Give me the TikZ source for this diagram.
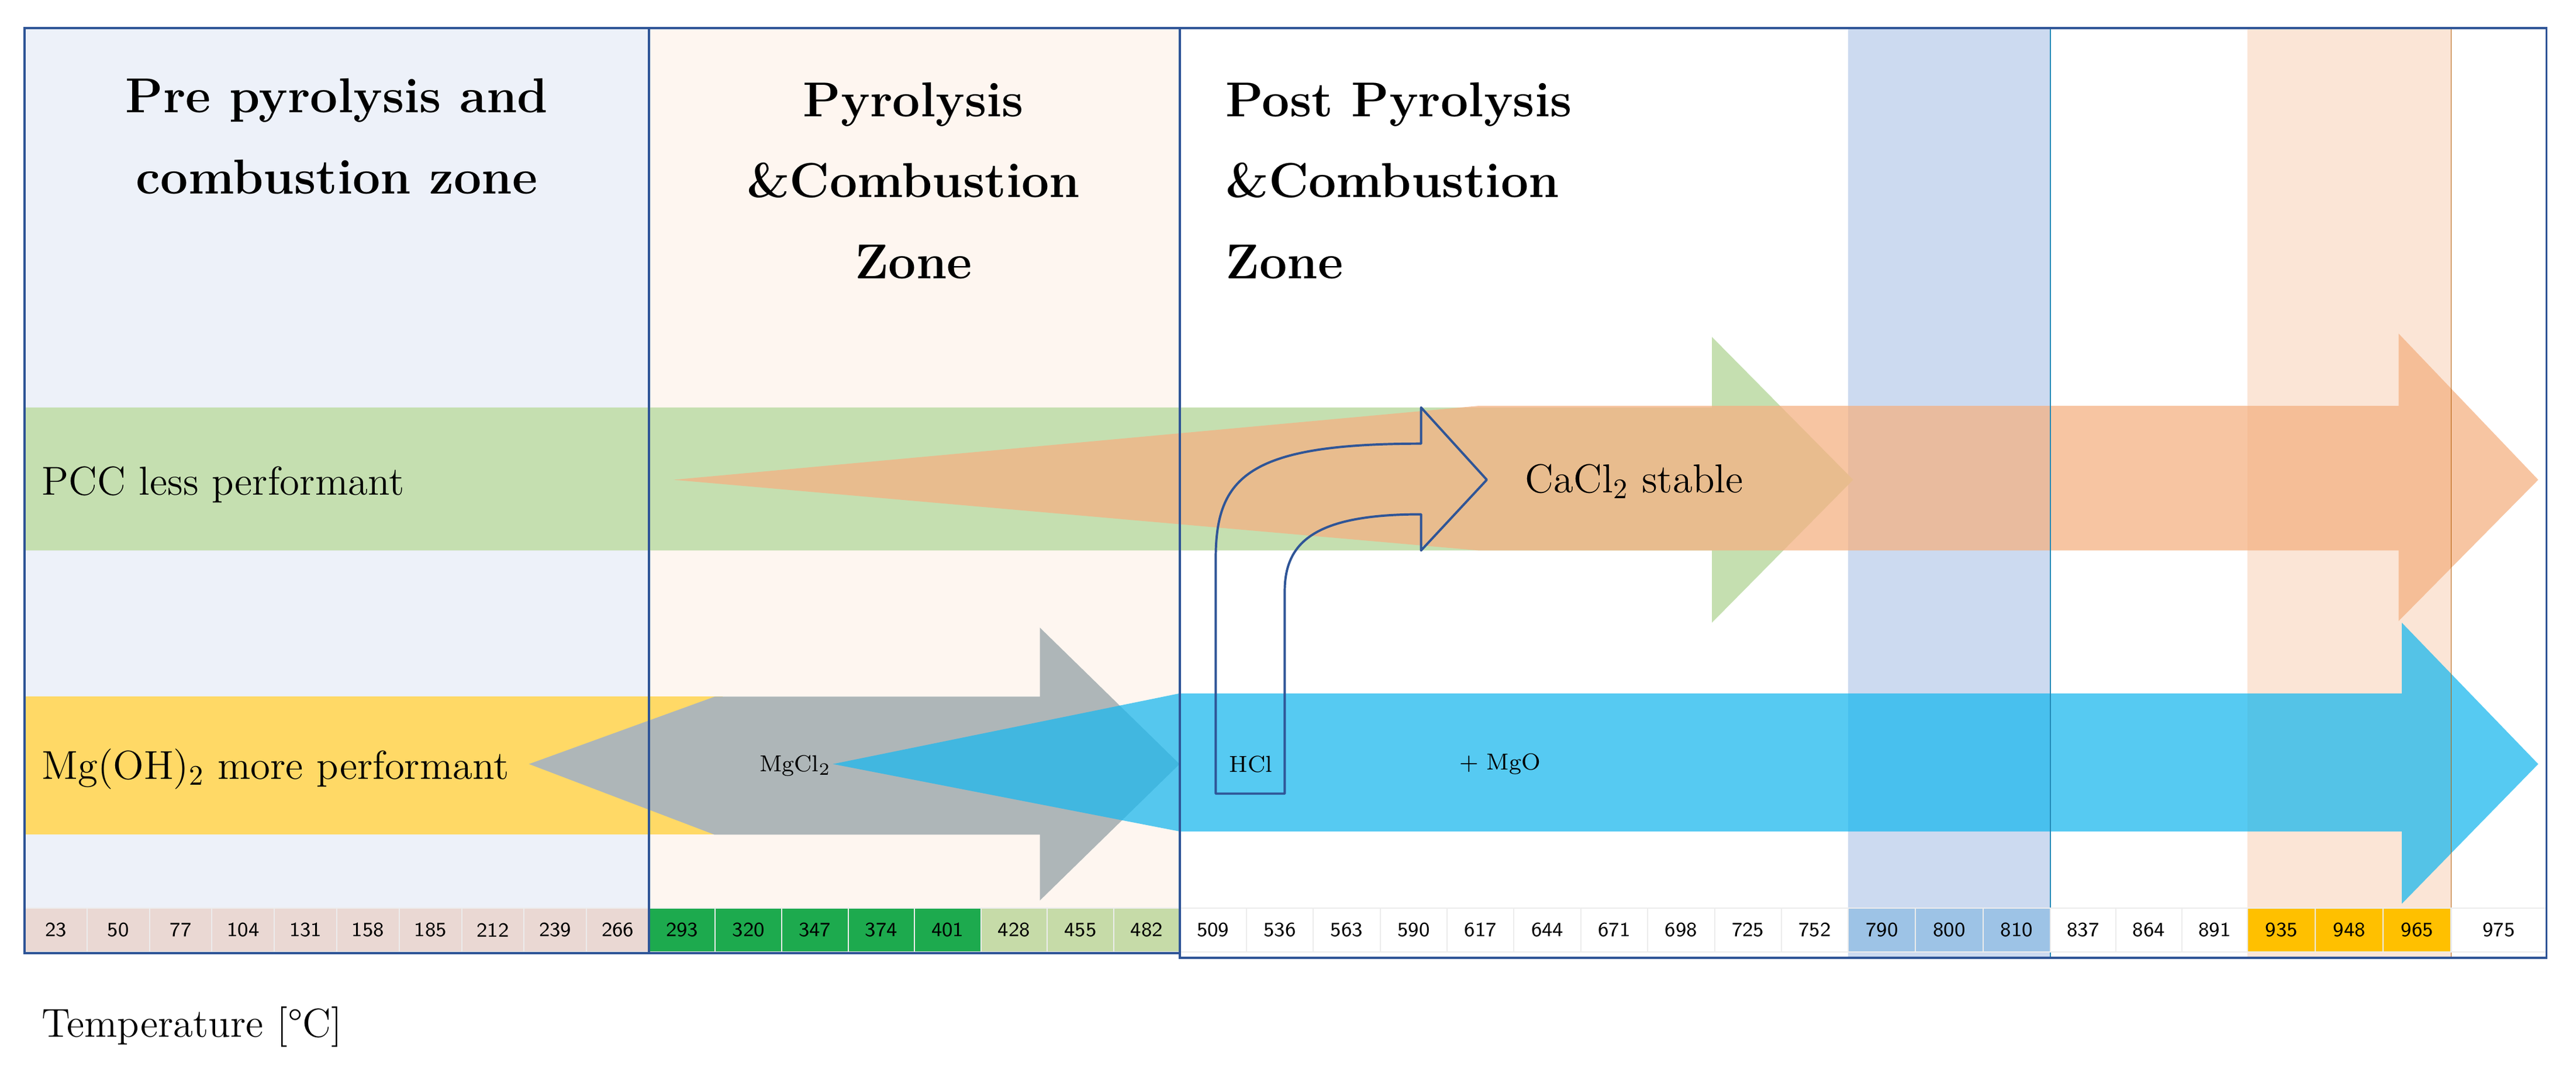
\documentclass[tikz,border=0pt]{standalone}
\usepackage{tikz}
\usetikzlibrary{positioning}
\definecolor{zoneA}{HTML}{EDF1F9}
\definecolor{zoneB}{HTML}{FEF6F0}
\definecolor{frame}{HTML}{2F5597}
\definecolor{pcc}{HTML}{C5DFB0}
\definecolor{cacl}{HTML}{F4B183}
\definecolor{mgoh}{HTML}{FFD966}
\definecolor{mgcl}{HTML}{AEB6B8}
\definecolor{mgo}{HTML}{1DB8EE}
\definecolor{bandblue}{HTML}{CCDAF0}
\definecolor{bandorange}{HTML}{FBE5D6}
\definecolor{cellpink}{HTML}{EAD8D3}
\definecolor{cellgreen}{HTML}{1DAA4E}
\definecolor{celllight}{HTML}{C6DBA8}
\definecolor{cellblue}{HTML}{9DC3E6}
\definecolor{cellgold}{HTML}{FFC000}
\tikzset{
    zone/.style={
           draw=frame, thick,
           },
    title/.style={
           font=\fontsize{17}{20}\selectfont\bfseries,
           align=center,
           },
    label/.style={
           font=\fontsize{14}{16}\selectfont,
           anchor=west,
           inner sep=0pt,
           },
    small/.style={
           font=\fontsize{8}{9}\selectfont,
           anchor=west,
           inner sep=0pt,
           },
    cell/.style={
           font=\fontsize{7}{8}\selectfont\sffamily,
           minimum height=0.54cm,
           inner sep=0pt,
           draw=gray!15,
           },
}
\begin{document}
\begin{tikzpicture}[x=0.02cm, y=-0.02cm]
 \useasboundingbox (0,0) rectangle (1568,653);

 % zone backgrounds and temperature bands
 \fill[zoneA] (15,17) rectangle (395,580);
 \fill[zoneB] (395,17) rectangle (718,580);
 \fill[bandblue] (1125,17) rectangle (1248,583);
 \fill[bandorange] (1368,17) rectangle (1492,583);

 % arrows
 \fill[pcc] (15,248) -- (1042,248) -- (1042,205) -- (1128,292)
   -- (1042,379) -- (1042,335) -- (15,335) -- cycle;
 \fill[cacl, opacity=0.75] (410,292) -- (900,247) -- (1460,247) -- (1460,203)
   -- (1545,292) -- (1460,378) -- (1460,335) -- (900,335) -- cycle;
 \fill[mgoh] (15,424) rectangle (440,508);
 \fill[mgcl] (322,465) -- (435,424) -- (633,424) -- (633,382) -- (718,465)
   -- (633,548) -- (633,508) -- (435,508) -- cycle;
 \fill[mgo, opacity=0.75] (507,465) -- (718,422) -- (1462,422) -- (1462,379)
   -- (1545,465) -- (1462,550) -- (1462,506) -- (718,506) -- cycle;

 % HCl u-turn
 \draw[frame, thick, line join=round] (740,483) -- (740,340)
   .. controls (740,290) and (760,270) .. (865,270) -- (865,248) -- (905,292)
   -- (865,335) -- (865,313) .. controls (800,313) and (782,330) .. (782,360)
   -- (782,483) -- cycle;

 \draw[frame!70!cyan] (1248,17) -- (1248,583);
 \draw[orange!70!black] (1492,17) -- (1492,583);

 % scale
 \foreach \v [count=\i from 0] in {23,50,77,104,131,158,185,212,239,266}
   \node[cell, fill=cellpink, minimum width=0.76cm] (tA\i) at (34+38*\i,566) {\v};
 \foreach \v [count=\i from 0] in {293,320,347,374,401}
   \node[cell, fill=cellgreen, minimum width=0.808cm] (tB\i) at (415.2+40.4*\i,566) {\v};
 \foreach \v [count=\i from 5] in {428,455,482}
   \node[cell, fill=celllight, minimum width=0.808cm] (tB\i) at (415.2+40.4*\i,566) {\v};
 \foreach \v [count=\i from 0] in {509,536,563,590,617,644,671,698,725,752}
   \node[cell, fill=white, minimum width=0.814cm] (tC\i) at (738.35+40.7*\i,566) {\v};
 \foreach \v [count=\i from 0] in {790,800,810}
   \node[cell, fill=cellblue, minimum width=0.82cm] (tD\i) at (1145.5+41*\i,566) {\v};
 \foreach \v [count=\i from 0] in {837,864,891}
   \node[cell, fill=white, minimum width=0.8cm] (tE\i) at (1268+40*\i,566) {\v};
 \foreach \v [count=\i from 0] in {935,948,965}
   \node[cell, fill=cellgold, minimum width=0.826cm] (tF\i) at (1388.7+41.3*\i,566) {\v};
 \node[cell, fill=white, minimum width=1.16cm] (tG) at (1521,566) {975};

 % zone frames
 \draw[zone] (15,17) rectangle (395,580);
 \draw[zone] (395,17) rectangle (718,580);
 \draw[zone] (718,17) rectangle (1550,583);

 % titles
 \node[title] (preT) at (205,83) {Pre pyrolysis and\\[8pt] combustion zone};
 \node[title] (pyrT) at (556,110) {Pyrolysis\\[8pt] \&Combustion\\[8pt] Zone};
 \node[title, align=left, anchor=west] (postT) at (740,110)
   {Post Pyrolysis\\[8pt] \&Combustion\\[8pt] Zone};

 % labels
 \node[label] (pcc) at (25,295) {PCC less performant};
 \node[label] (cacl) at (928,293) {CaCl\textsubscript{2} stable};
 \node[label] (mgoh) at (25,468) {Mg(OH)\textsubscript{2} more performant};
 \node[small] (mgcl) at (462,466) {MgCl\textsubscript{2}};
 \node[small] (hcl) at (748,465) {HCl};
 \node[small] (mgo) at (888,465) {+ MgO};
 \node[label] (temp) at (25,625) {Temperature [°C]};
\end{tikzpicture}
\end{document}
